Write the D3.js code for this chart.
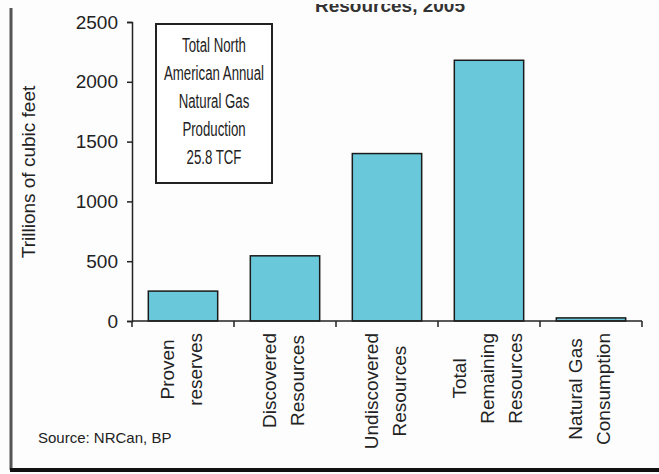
<!DOCTYPE html>
<html>
<head>
<meta charset="utf-8">
<script src="https://cdn.jsdelivr.net/npm/d3@7.9.0/dist/d3.min.js"></script>
<style>
  body { margin: 0; background: #fff; }
  svg { display: block; font-family: 'Liberation Sans', Arial, sans-serif; }
</style>
</head>
<body>
<svg id="chart" width="659" height="474"></svg>
<script>
// data
const categories = [
  'Proven|reserves',
  'Discovered|Resources',
  'Undiscovered|Resources',
  'Total|Remaining|Resources',
  'Natural Gas|Consumption',
];
const values = [250, 545, 1400, 2180, 25.8];
const yTicks = [0, 500, 1000, 1500, 2000, 2500];
const boxLines = ['Total North', 'American Annual', 'Natural Gas', 'Production', '25.8 TCF'];
const yTitle = 'Trillions of cubic feet';
const source = 'Source: NRCan, BP';
const title = 'Resources, 2005';

const svg = d3.select('#chart');

const plot = { left: 132, right: 642, top: 22, bottom: 321 };

const x = d3.scaleBand()
  .domain(categories)
  .range([plot.left, plot.right])
  .paddingInner(0.32)
  .paddingOuter(0.16);

const y = d3.scaleLinear()
  .domain([0, 2500])
  .range([plot.bottom, plot.top]);

svg.append('rect')
  .attr('width', 659)
  .attr('height', 474)
  .attr('fill', '#fdfdfd');

// frame lines (left and bottom of the slide)
svg.append('line')
  .attr('x1', 11).attr('x2', 11)
  .attr('y1', 8).attr('y2', 470)
  .attr('stroke', '#555').attr('stroke-width', 3);
svg.append('line')
  .attr('x1', 10).attr('x2', 659)
  .attr('y1', 470).attr('y2', 470)
  .attr('stroke', '#111').attr('stroke-width', 4);

// clipped title, only its lower half shows
svg.append('clipPath').attr('id', 'topclip')
  .append('rect').attr('x', 0).attr('y', 4).attr('width', 659).attr('height', 30);
svg.append('text')
  .attr('clip-path', 'url(#topclip)')
  .attr('x', 390).attr('y', 12)
  .attr('text-anchor', 'middle')
  .attr('font-size', 19)
  .attr('font-weight', 'bold')
  .attr('fill', '#333')
  .text(title);

// bars
svg.append('g')
  .selectAll('rect')
  .data(values)
  .join('rect')
  .attr('x', (d, i) => x(categories[i]))
  .attr('y', (d) => y(d))
  .attr('width', x.bandwidth())
  .attr('height', (d) => y(0) - y(d))
  .attr('fill', '#69c9da')
  .attr('stroke', '#1a1a1a')
  .attr('stroke-width', 1.5);

// y axis
const yAxis = svg.append('g')
  .attr('transform', `translate(${plot.left},0)`)
  .call(d3.axisLeft(y).tickValues(yTicks).tickSize(5).tickPadding(9).tickFormat(d3.format('d')));
yAxis.select('.domain').attr('stroke', '#222').attr('stroke-width', 1.5);
yAxis.selectAll('.tick line').attr('stroke', '#222').attr('stroke-width', 1.5);
yAxis.selectAll('.tick text')
  .attr('font-size', 19)
  .attr('font-family', 'Liberation Sans, Arial, sans-serif')
  .attr('fill', '#222');

// x axis: ticks between the categories
const xAxis = svg.append('g')
  .attr('transform', `translate(0,${plot.bottom})`);
xAxis.append('line')
  .attr('x1', plot.left).attr('x2', plot.right)
  .attr('stroke', '#222').attr('stroke-width', 1.5);
xAxis.selectAll('line.tick')
  .data(d3.range(categories.length + 1))
  .join('line')
  .attr('class', 'tick')
  .attr('x1', (i) => plot.left + i * (plot.right - plot.left) / categories.length)
  .attr('x2', (i) => plot.left + i * (plot.right - plot.left) / categories.length)
  .attr('y1', 0).attr('y2', 6)
  .attr('stroke', '#222').attr('stroke-width', 1.5);

// category labels, rotated, several lines each
const lineGap = 28;
categories.forEach((cat) => {
  const lines = cat.split('|');
  const cx = x(cat) + x.bandwidth() / 2 - 2;
  const g = svg.append('g')
    .attr('transform', `translate(${cx},333) rotate(-90)`);
  const texts = g.selectAll('text')
    .data(lines)
    .join('text')
    .attr('font-size', 19)
    .attr('fill', '#222')
    .attr('text-anchor', 'middle')
    .attr('y', (d, i) => (i - (lines.length - 1) / 2) * lineGap + 7)
    .text((d) => d);
  const maxLen = d3.max(texts.nodes(), (n) => n.getComputedTextLength());
  texts.attr('x', -maxLen / 2);
});

// y axis title
svg.append('text')
  .attr('transform', 'translate(35,172) rotate(-90)')
  .attr('text-anchor', 'middle')
  .attr('font-size', 19)
  .attr('fill', '#222')
  .text(yTitle);

// annotation box
svg.append('rect')
  .attr('x', 156).attr('y', 24)
  .attr('width', 116).attr('height', 159)
  .attr('fill', '#fff')
  .attr('stroke', '#222')
  .attr('stroke-width', 2);
svg.append('g')
  .selectAll('text')
  .data(boxLines)
  .join('text')
  .attr('transform', (d, i) => `translate(214,${52 + i * 28}) scale(0.63,1)`)
  .attr('text-anchor', 'middle')
  .attr('font-size', 21)
  .attr('fill', '#222')
  .text((d) => d);

// source note
svg.append('text')
  .attr('x', 38).attr('y', 443)
  .attr('font-size', 15)
  .attr('fill', '#222')
  .text(source);
</script>
</body>
</html>
